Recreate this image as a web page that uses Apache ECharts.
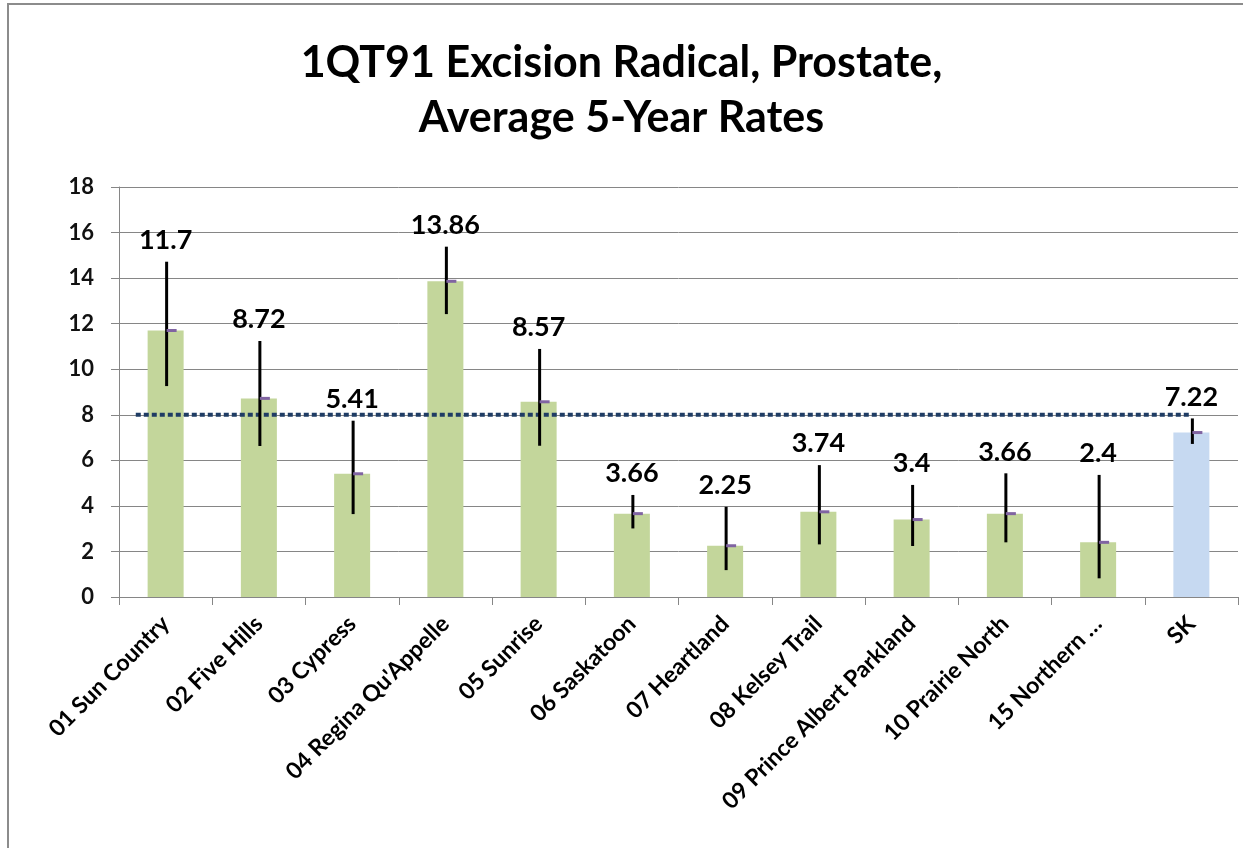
<!DOCTYPE html>
<html>
<head>
<meta charset="utf-8">
<script src="https://cdn.jsdelivr.net/npm/echarts@6/dist/echarts.min.js"></script>
<style>
  html, body { margin: 0; padding: 0; background: #fff; }
  .frame {
    position: absolute; left: 7px; top: 3px; right: -10px; bottom: -10px;
    border-left: 2px solid #8c8c8c; border-top: 2px solid #8c8c8c;
  }
  #chart { position: absolute; left: 0; top: 0; width: 1243px; height: 848px; }
</style>
</head>
<body>
<div class="frame"></div>
<div id="chart"></div>
<script>
const categories = [
  '01 Sun Country', '02 Five Hills', '03 Cypress', "04 Regina Qu'Appelle",
  '05 Sunrise', '06 Saskatoon', '07 Heartland', '08 Kelsey Trail',
  '09 Prince Albert Parkland', '10 Prairie North', '15 Northern …', 'SK'
];
const rates = [11.7, 8.72, 5.41, 13.86, 8.57, 3.66, 2.25, 3.74, 3.4, 3.66, 2.4, 7.22];
const lowerCI = [9.26, 6.63, 3.64, 12.42, 6.64, 3.01, 1.18, 2.31, 2.24, 2.40, 0.82, 6.72];
const upperCI = [14.72, 11.24, 7.74, 15.38, 10.89, 4.48, 3.96, 5.79, 4.92, 5.43, 5.36, 7.84];
const provinceAvg = 8.0;
const yTicks = { min: 0, max: 18, interval: 2 };

const chart = echarts.init(document.getElementById('chart'));

const FONT = 'Lato, "Open Sans", sans-serif';

const errorData = rates.map((v, i) => [i, v, lowerCI[i], upperCI[i]]);

const option = {
  animation: false,
  title: {
    text: '1QT91 Excision Radical, Prostate,\nAverage 5-Year Rates',
    left: 'center',
    top: 31,
    textStyle: {
      fontFamily: FONT,
      fontSize: 43,
      fontWeight: 'bold',
      color: '#000',
      lineHeight: 55
    }
  },
  grid: { left: 119, right: 5, top: 187, bottom: 251 },
  xAxis: {
    type: 'category',
    data: categories,
    axisLine: { lineStyle: { color: '#868686', width: 1 } },
    axisTick: { show: true, length: 8, lineStyle: { color: '#868686' } },
    axisLabel: {
      interval: 0,
      rotate: 45,
      margin: 23,
      fontFamily: FONT,
      fontSize: 23,
      fontWeight: 'bold',
      color: '#000'
    }
  },
  yAxis: {
    type: 'value',
    min: yTicks.min,
    max: yTicks.max,
    interval: yTicks.interval,
    axisLine: { show: true, lineStyle: { color: '#868686', width: 1 } },
    axisTick: { show: true, length: 8, lineStyle: { color: '#868686' } },
    splitLine: { lineStyle: { color: '#868686', width: 1 } },
    axisLabel: {
      margin: 25,
      fontFamily: FONT,
      fontSize: 22,
      fontWeight: 'bold',
      color: '#111'
    }
  },
  series: [
    {
      type: 'bar',
      data: rates.map((v, i) => ({
        value: v,
        itemStyle: { color: categories[i] === 'SK' ? '#c6d9f1' : '#c3d69b' }
      })),
      barWidth: 36,
      z: 2
    },
    {
      // province average reference line (dotted)
      type: 'custom',
      data: [[provinceAvg]],
      z: 4,
      renderItem: function (params, api) {
        const avg = api.value(0);
        const band = api.size([1, 0])[0];
        const p0 = api.coord([0, avg]);
        const p1 = api.coord([categories.length - 1, avg]);
        return {
          type: 'line',
          shape: { x1: p0[0] - band * 0.32, y1: p0[1], x2: p1[0], y2: p1[1] },
          style: { stroke: '#1f3c64', lineWidth: 4, lineDash: [5, 3] }
        };
      }
    },
    {
      // confidence interval, point marker and value label
      type: 'custom',
      data: errorData,
      z: 5,
      renderItem: function (params, api) {
        const idx = api.value(0);
        const val = api.value(1);
        const lo = api.coord([idx, api.value(2)]);
        const hi = api.coord([idx, api.value(3)]);
        const mid = api.coord([idx, val]);
        const x = lo[0] + 1;
        return {
          type: 'group',
          children: [
            {
              type: 'line',
              shape: { x1: x, y1: lo[1], x2: x, y2: hi[1] },
              style: { stroke: '#000', lineWidth: 3 }
            },
            {
              type: 'rect',
              shape: { x: x, y: mid[1] - 1.5, width: 10, height: 3 },
              style: { fill: '#8064a2' }
            },
            {
              type: 'text',
              x: lo[0],
              y: hi[1] - 8,
              style: {
                text: String(rates[idx]),
                fontFamily: FONT,
                fontSize: 27,
                fontWeight: 'bold',
                fill: '#000',
                align: 'center',
                verticalAlign: 'bottom'
              }
            }
          ]
        };
      }
    }
  ]
};

chart.setOption(option);
</script>
</body>
</html>
